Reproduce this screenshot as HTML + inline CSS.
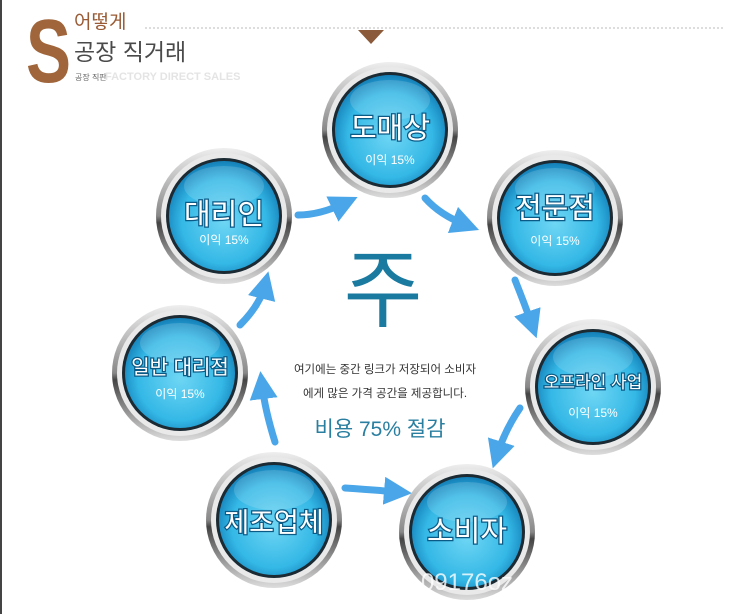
<!DOCTYPE html>
<html><head><meta charset="utf-8"><style>
body{margin:0;background:#fff;}
svg{display:block;font-family:"Liberation Sans","Noto Sans CJK KR",sans-serif;}
.t{fill:#fff;stroke:#0b5a86;stroke-width:2.5px;paint-order:stroke;text-anchor:middle;}
.s{fill:#fff;font-size:12px;text-anchor:middle;}
</style></head><body>
<svg width="750" height="614" viewBox="0 0 750 614">
<defs>
<linearGradient id="ring2" x1="0" y1="0" x2="0" y2="1">
<stop offset="0" stop-color="#eee"/><stop offset="0.5" stop-color="#888"/><stop offset="0.55" stop-color="#444"/><stop offset="1" stop-color="#ddd"/></linearGradient>
<radialGradient id="blue" cx="50%" cy="55%" r="55%">
<stop offset="0" stop-color="#6fd6f4"/><stop offset="0.7" stop-color="#34b8e6"/><stop offset="1" stop-color="#1480b8"/></radialGradient>
<marker id="ah" viewBox="0 0 10 10" refX="5" refY="5" markerWidth="4" markerHeight="4" orient="auto"><path d="M0,0L10,5L0,10z" fill="#4aa6e8"/></marker>
<g id="c">
<circle r="68" fill="url(#ring2)"/>
<circle r="63" fill="#e9e9e9"/>
<circle r="58" fill="#1b2a33"/>
<circle r="55" fill="url(#blue)"/>
<ellipse cx="0" cy="-30" rx="40" ry="20" fill="#fff" opacity="0.15"/>
</g>
</defs>
<rect x="0" y="0" width="2" height="614" fill="#444"/>
<text x="0" y="0" font-size="90" font-weight="bold" fill="#a0653a" transform="translate(26,82) scale(0.75,1)">S</text>
<text x="74" y="28" font-size="19" fill="#9a5a34">어떻게</text>
<line x1="145" y1="28" x2="725" y2="28" stroke="#bbb" stroke-dasharray="2,2"/>
<path d="M358,30L384,30L371,44z" fill="#8a5a3a"/>
<text x="74" y="60" font-size="23" fill="#4a4a4a">공장 직거래</text>
<text x="75" y="80" font-size="8" fill="#666">공장 직판</text>
<text x="105" y="80" font-size="11" fill="#e4e4e4" font-weight="bold">FACTORY DIRECT SALES</text>
<g fill="none" stroke="#4aa6e8" stroke-width="7" stroke-linecap="round" marker-end="url(#ah)">
<path d="M298,215 Q320,215 345,203"/>
<path d="M425,198 Q440,215 466,225"/>
<path d="M515,280 Q525,305 532,325"/>
<path d="M520,408 Q505,430 497,455"/>
<path d="M345,488 Q375,490 398,492"/>
<path d="M275,442 Q265,410 262,385"/>
<path d="M240,325 Q260,305 265,285"/>
</g>
<use href="#c" x="390" y="130"/>
<use href="#c" x="224" y="216"/>
<use href="#c" x="555" y="218"/>
<use href="#c" x="180" y="373"/>
<use href="#c" x="593" y="387"/>
<use href="#c" x="274" y="520"/>
<use href="#c" x="467" y="532"/>
<text class="t" x="390" y="138" font-size="29">도매상</text><text class="s" x="390" y="164">이익 15%</text>
<text class="t" x="224" y="224" font-size="29">대리인</text><text class="s" x="224" y="244">이익 15%</text>
<text class="t" x="555" y="218" font-size="29">전문점</text><text class="s" x="555" y="245">이익 15%</text>
<text class="t" x="180" y="374" font-size="20">일반 대리점</text><text class="s" x="180" y="398">이익 15%</text>
<text class="t" x="593" y="388" font-size="17">오프라인 사업</text><text class="s" x="593" y="417">이익 15%</text>
<text class="t" x="274" y="532" font-size="27">제조업체</text>
<text class="t" x="467" y="541" font-size="29">소비자</text>
<text x="383" y="320" font-size="86" fill="#1a7aa0" text-anchor="middle">주</text>
<text x="385" y="373" font-size="11.5" fill="#333" text-anchor="middle">여기에는 중간 링크가 저장되어 소비자</text>
<text x="385" y="397" font-size="11.5" fill="#333" text-anchor="middle">에게 많은 가격 공간을 제공합니다.</text>
<text x="380" y="436" font-size="21" fill="#2a7fa0" text-anchor="middle">비용 75% 절감</text>
<text x="467" y="590" font-size="24" fill="#fff" opacity="0.8" text-anchor="middle">09176oz</text>
</svg>
</body></html>
